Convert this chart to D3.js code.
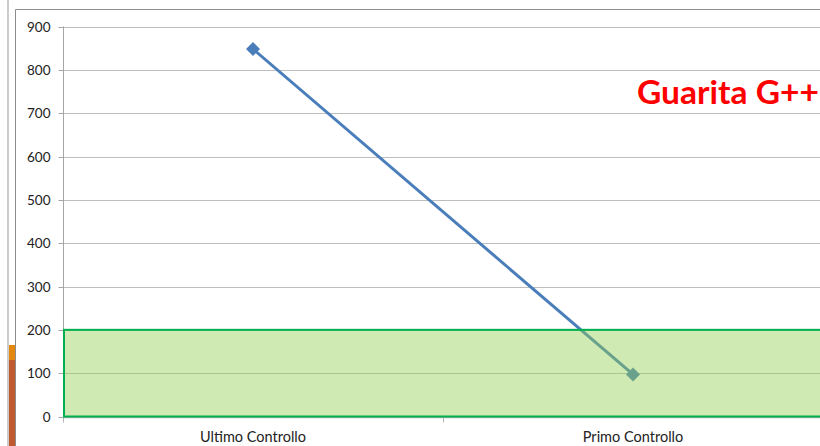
<!DOCTYPE html>
<html><head><meta charset="utf-8">
<script src="https://cdn.jsdelivr.net/npm/d3@7"></script>
<style>html,body{margin:0;padding:0;background:#fff;overflow:hidden}svg{display:block}</style>
</head><body>
<script>
const categories = ["Ultimo Controllo", "Primo Controllo"];
const values = [848, 97];
const yTicks = [0, 100, 200, 300, 400, 500, 600, 700, 800, 900];
const targetBand = [0, 200];
const title = "Guarita G++";

const W = 820, H = 446;
const svg = d3.select("body").append("svg").attr("width", W).attr("height", H);
const font = "Lato, 'Open Sans', sans-serif";

// decorations from neighbouring cells
svg.append("rect").attr("x", 7.5).attr("y", 0).attr("width", 1).attr("height", H).attr("fill", "#9a9a9a");
svg.append("rect").attr("x", 9).attr("y", 345).attr("width", 6).attr("height", 15).attr("fill", "#e3870f");
svg.append("rect").attr("x", 9).attr("y", 360).attr("width", 6).attr("height", 86).attr("fill", "#c0592d");
// chart frame
svg.append("path").attr("d", `M15.5,${H} V9.5 H${W}`).attr("fill", "none").attr("stroke", "#8c8c8c").attr("stroke-width", 1);

const x = d3.scaleBand().domain(categories).range([63, 823]);
const y = d3.scaleLinear().domain([0, 900]).range([416.5, 26.5]);

// gridlines
svg.append("g").selectAll("line").data(yTicks.filter(d => d > 0)).join("line")
  .attr("x1", 63).attr("x2", W).attr("y1", d => Math.round(y(d)) + 0.5).attr("y2", d => Math.round(y(d)) + 0.5)
  .attr("stroke", "#bdbdbd").attr("stroke-width", 1);

// y axis
const yAxis = svg.append("g").attr("transform", "translate(63.5,0)")
  .call(d3.axisLeft(y).tickValues(yTicks).tickSize(5).tickPadding(8).tickFormat(d3.format("d")));
yAxis.select(".domain").attr("stroke", "#a6a6a6").attr("d", `M0,${y(0)+1}V${y(900)}`);
yAxis.selectAll(".tick line").attr("stroke", "#a6a6a6");
yAxis.selectAll(".tick").attr("transform", d => `translate(0,${Math.round(y(d)) + 0.5})`);
yAxis.selectAll("text").attr("font-family", font).attr("font-size", 13.5).attr("fill", "#222").attr("dy", "0.35em");

// x axis
const xAxisY = 417.5;
svg.append("line").attr("x1", 63).attr("x2", W).attr("y1", xAxisY).attr("y2", xAxisY).attr("stroke", "#b5b5b5").attr("stroke-width", 1.5);
const bounds = [x.range()[0], ...categories.map(c => x(c) + x.bandwidth())];
svg.append("g").selectAll("line").data(bounds).join("line")
  .attr("x1", d => Math.round(d) + 0.5).attr("x2", d => Math.round(d) + 0.5)
  .attr("y1", xAxisY).attr("y2", xAxisY + 5).attr("stroke", "#b5b5b5");
svg.append("g").selectAll("text").data(categories).join("text")
  .attr("x", d => x(d) + x.bandwidth() / 2).attr("y", 442)
  .attr("text-anchor", "middle").attr("font-family", font).attr("font-size", 14.5).attr("fill", "#222")
  .text(d => d);

// line series
const pts = categories.map((c, i) => [x(c) + x.bandwidth() / 2, y(values[i])]);
svg.append("path").attr("d", d3.line()(pts)).attr("fill", "none").attr("stroke", "#4a7ebb").attr("stroke-width", 3);
svg.append("g").selectAll("path").data(pts).join("path")
  .attr("transform", d => `translate(${d[0]},${d[1]})`)
  .attr("d", "M0,-7L7,0L0,7L-7,0Z").attr("fill", "#4a7ebb");

// target band (semi-transparent, drawn over the line)
svg.append("rect").attr("x", 64).attr("y", y(targetBand[1]))
  .attr("width", W - 64 + 5).attr("height", y(targetBand[0]) - y(targetBand[1]))
  .attr("fill", "#92d050").attr("fill-opacity", 0.44)
  .attr("stroke", "#00b050").attr("stroke-width", 2);

// title
svg.append("text").attr("x", 637).attr("y", 104).attr("font-family", font).attr("font-weight", "bold")
  .attr("font-size", 32).attr("fill", "#ff0000")
  .attr("textLength", 182).attr("lengthAdjust", "spacingAndGlyphs").text(title);
</script>
</body></html>
